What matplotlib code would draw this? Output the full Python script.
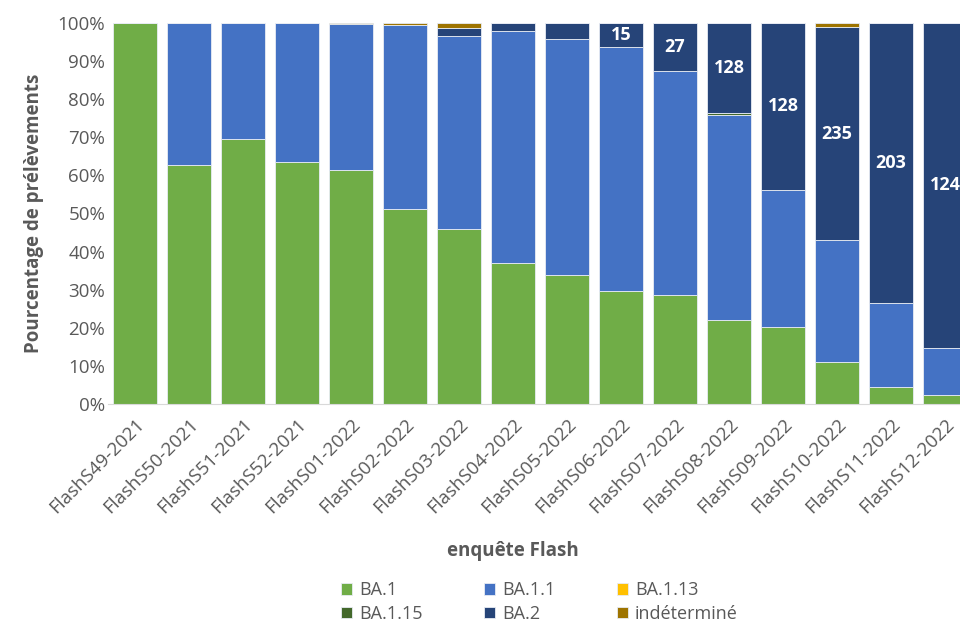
import matplotlib.pyplot as plt
import numpy as np

plt.rcParams['font.family'] = ['Open Sans', 'DejaVu Sans']

weeks = ['FlashS49-2021', 'FlashS50-2021', 'FlashS51-2021', 'FlashS52-2021',
         'FlashS01-2022', 'FlashS02-2022', 'FlashS03-2022', 'FlashS04-2022',
         'FlashS05-2022', 'FlashS06-2022', 'FlashS07-2022', 'FlashS08-2022',
         'FlashS09-2022', 'FlashS10-2022', 'FlashS11-2022', 'FlashS12-2022']

# shares in % per lineage
ba1 = [100, 62.7, 69.6, 63.5, 61.4, 51.2, 46.0, 37.0, 33.9, 29.7, 28.6, 22.0, 20.2, 11.0, 4.5, 2.3]
ba11 = [0, 37.3, 30.4, 36.5, 38.3, 48.2, 50.7, 60.9, 61.9, 64.0, 58.9, 53.9, 36.0, 32.0, 22.0, 12.4]
ba113 = [0] * 16
ba115 = [0, 0, 0, 0, 0, 0, 0, 0, 0, 0, 0, 0.6, 0, 0, 0, 0]
ba2 = [0, 0, 0, 0, 0, 0, 2.1, 2.1, 4.2, 6.3, 12.5, 23.5, 43.8, 55.9, 73.5, 85.3]
indet = [0, 0, 0, 0, 0.3, 0.6, 1.2, 0, 0, 0, 0, 0, 0, 1.1, 0, 0]

# counts written on the BA.2 segment
ba2_counts = ['', '', '', '', '', '', '', '', '', '15', '27', '128', '128', '235', '203', '124']

series = [
    ('BA.1', ba1, '#70AD47'),
    ('BA.1.1', ba11, '#4472C4'),
    ('BA.1.13', ba113, '#FFC000'),
    ('BA.1.15', ba115, '#43682B'),
    ('BA.2', ba2, '#264478'),
    ('indéterminé', indet, '#9E7400'),
]

fig = plt.figure(figsize=(9.6, 6.22), dpi=100)
ax = fig.add_axes([108 / 960, 218 / 622, 864 / 960, 381 / 622])

x = np.arange(len(weeks))
bottom = np.zeros(len(weeks))
for name, vals, color in series:
    vals = np.array(vals, dtype=float)
    ax.bar(x, vals, 0.815, bottom=bottom, color=color, label=name,
           edgecolor='#E8ECF4', linewidth=0.6)
    if name == 'BA.2':
        for i, txt in enumerate(ba2_counts):
            if txt:
                ax.text(x[i], bottom[i] + vals[i] / 2, txt, ha='center', va='center',
                        color='white', fontsize=13, fontweight='bold', clip_on=False)
    bottom += vals

ax.set_xlim(-0.5, len(weeks) - 0.5)
ax.set_ylim(0, 100)
ax.set_yticks(range(0, 101, 10))
ax.set_yticklabels([f'{v}%' for v in range(0, 101, 10)])
ax.set_xticks(x)
ax.set_xticklabels(weeks, rotation=45, ha='right', rotation_mode='anchor')
ax.tick_params(axis='both', length=0, labelsize=13.5, colors='#595959')
ax.tick_params(axis='x', pad=8)
ax.tick_params(axis='y', pad=2)

for side in ['top', 'right', 'left']:
    ax.spines[side].set_visible(False)
ax.spines['bottom'].set_color('#D9D9D9')

ax.set_ylabel('Pourcentage de prélèvements', fontsize=13.5, fontweight='bold',
              color='#595959', labelpad=10)
fig.text(513 / 960, 1 - 551 / 622, 'enquête Flash', ha='center', va='center',
         fontsize=13.5, fontweight='bold', color='#595959')

# legend filled row by row
handles, labels = ax.get_legend_handles_labels()
order = [0, 3, 1, 4, 2, 5]
leg = fig.legend([handles[i] for i in order], [labels[i] for i in order],
                 loc='center', bbox_to_anchor=(0.562, 1 - 602 / 622),
                 ncol=3, frameon=False, fontsize=13, handlelength=0.6, handleheight=0.6,
                 columnspacing=3.4, handletextpad=0.4, labelspacing=0.3)
for t in leg.get_texts():
    t.set_color('#595959')

plt.savefig('out.png', dpi=100)
